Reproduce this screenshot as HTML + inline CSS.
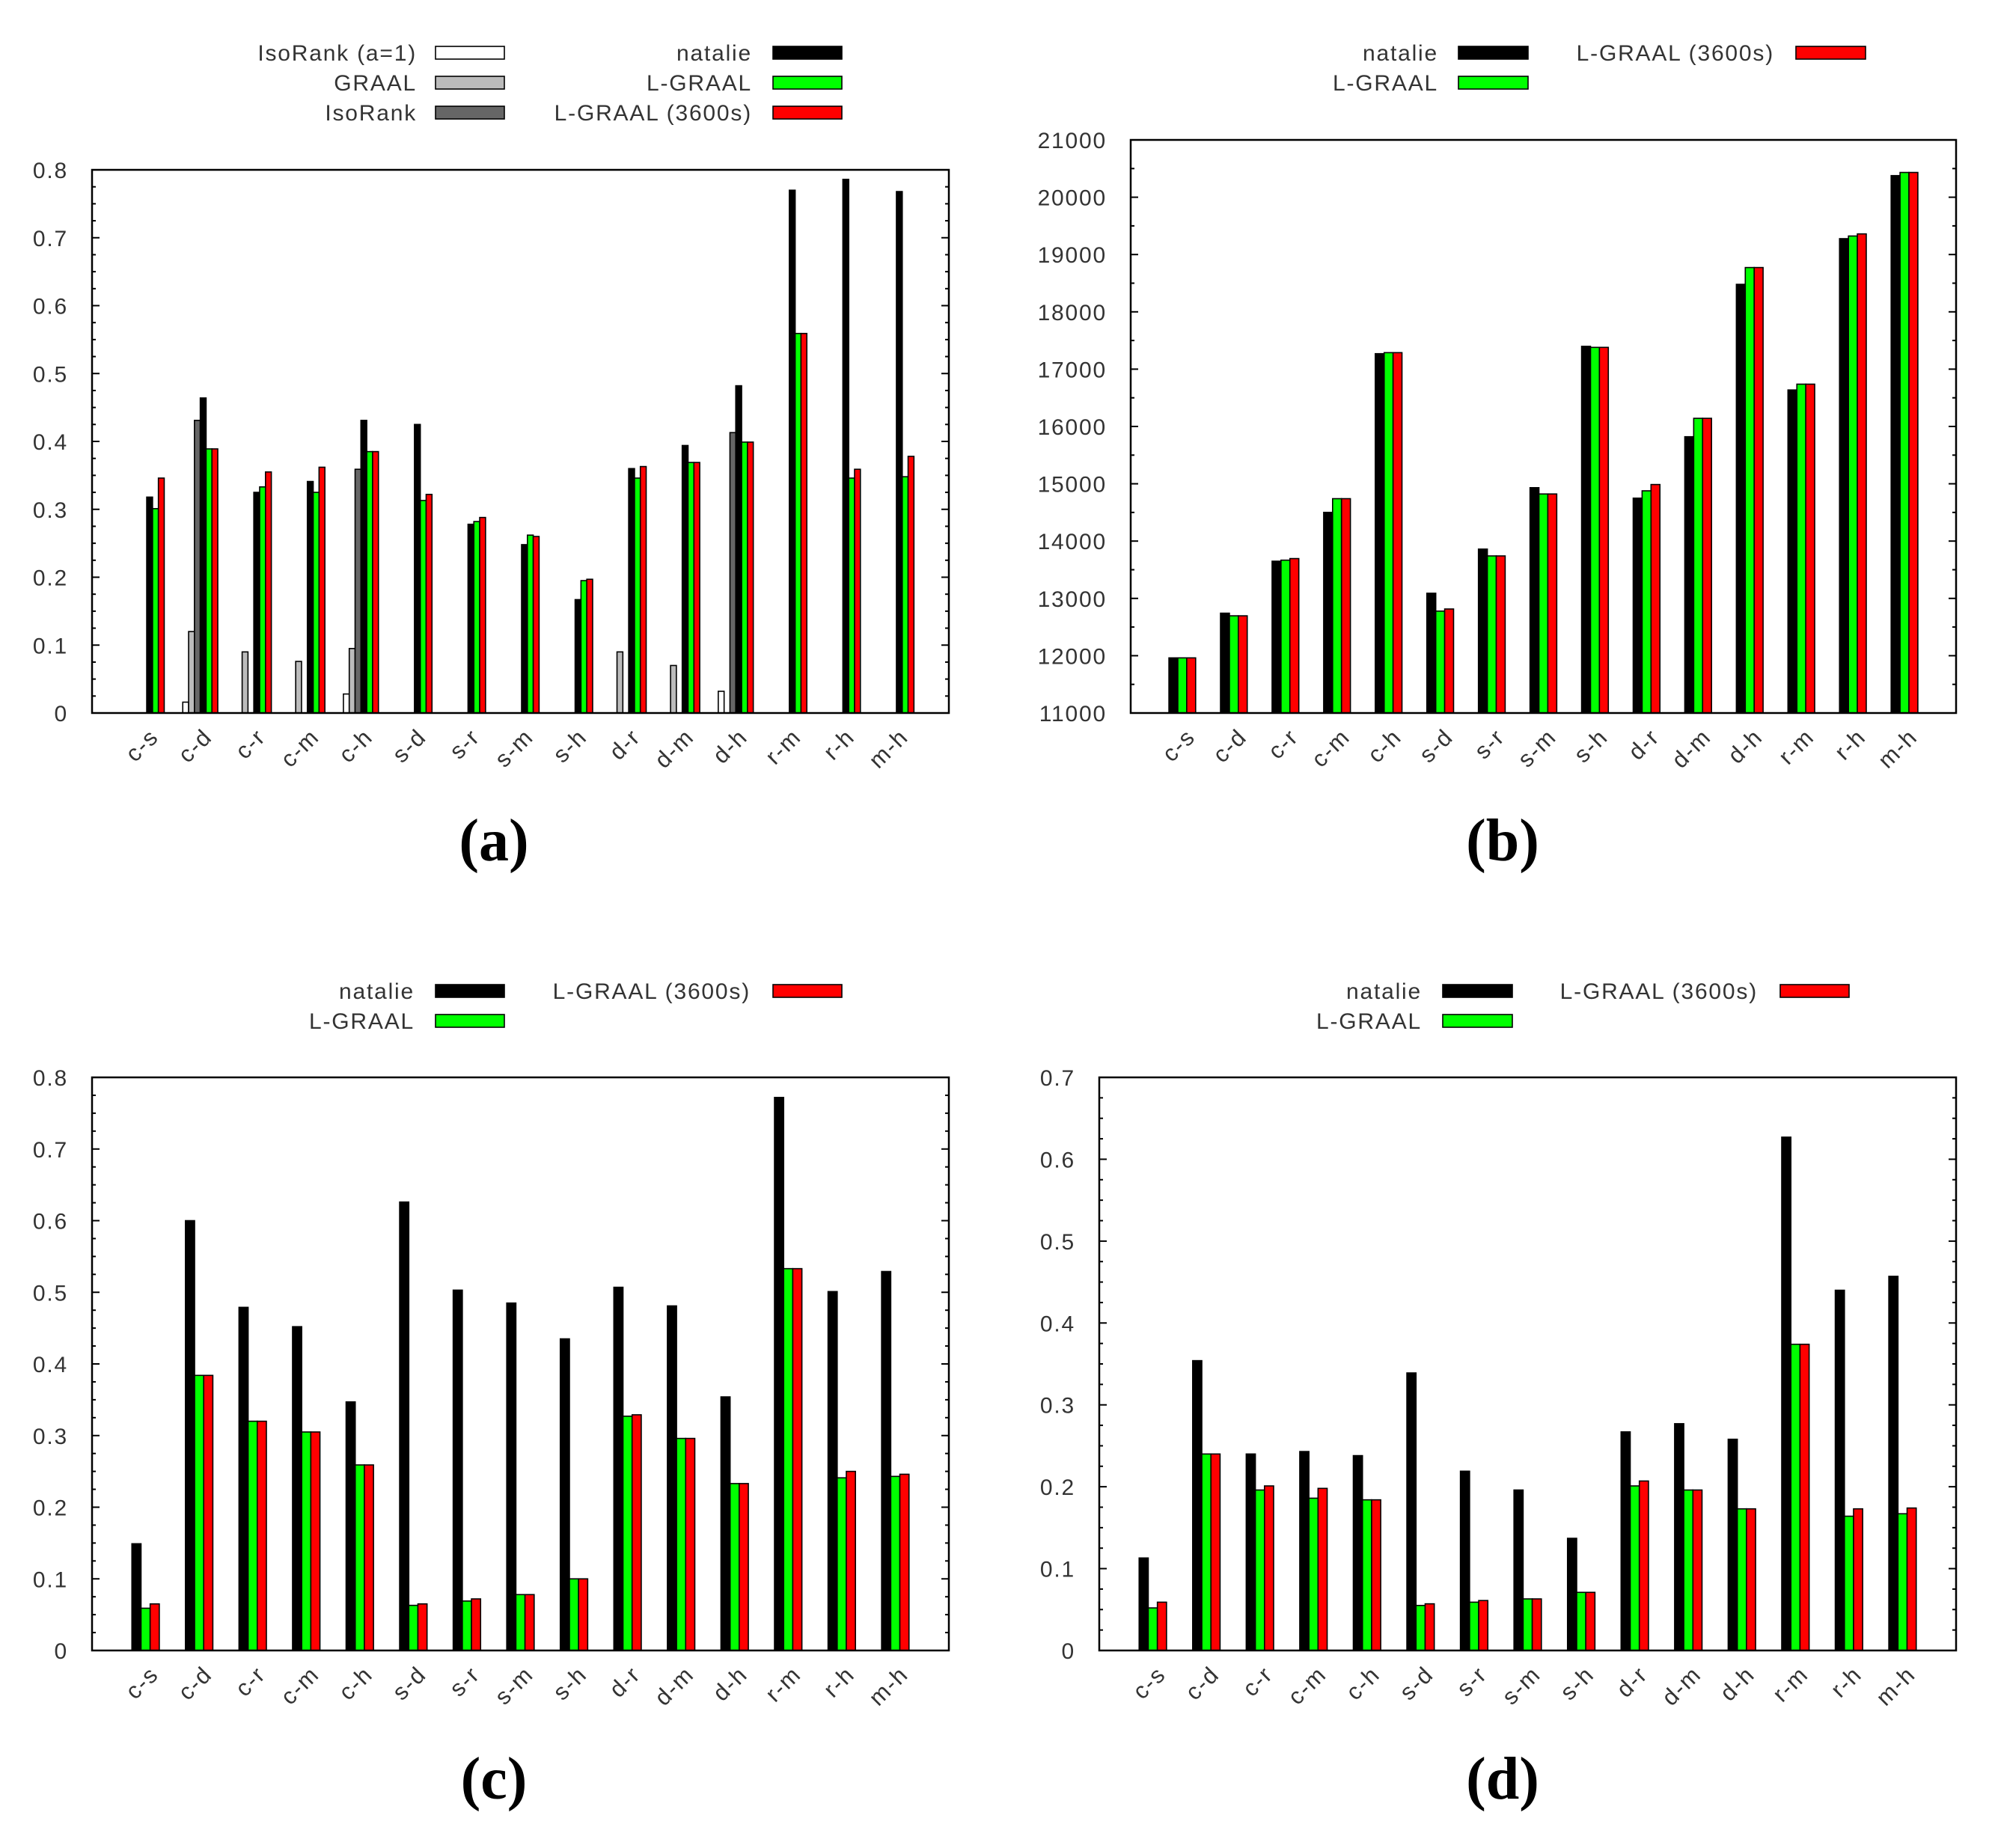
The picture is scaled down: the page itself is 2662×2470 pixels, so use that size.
<!DOCTYPE html>
<html><head><meta charset="utf-8">
<style>
html,body{margin:0;padding:0;background:#fff;}
svg{display:block;}
text{font-family:"Liberation Sans",sans-serif;fill:#333;letter-spacing:1.8px;}
.pl{font-family:"Liberation Serif",serif;font-weight:bold;fill:#000;letter-spacing:0;}
</style></head>
<body>
<svg id="fig" width="2662" height="2470" viewBox="0 0 2662 2470" xmlns="http://www.w3.org/2000/svg"></svg>
<script>
const categories = ["c-s","c-d","c-r","c-m","c-h","s-d","s-r","s-m","s-h","d-r","d-m","d-h","r-m","r-h","m-h"];

// Panel (a)
const aIsoRank1 = [null,0.016,null,null,0.028,null,null,null,null,null,null,0.032,null,null,null];
const aGraal    = [null,0.120,0.090,0.076,0.095,null,null,null,null,0.090,0.070,null,null,null,null];
const aIsoRank  = [null,0.431,null,null,0.359,null,null,null,null,null,null,0.413,null,null,null];
const aNatalie  = [0.318,0.464,0.325,0.341,0.431,0.425,0.278,0.248,0.167,0.360,0.394,0.482,0.770,0.786,0.768];
const aLGraal   = [0.301,0.389,0.333,0.325,0.385,0.313,0.282,0.262,0.195,0.346,0.369,0.399,0.559,0.346,0.348];
const aLGraal36 = [0.346,0.389,0.355,0.362,0.385,0.322,0.288,0.260,0.197,0.363,0.369,0.399,0.559,0.359,0.378];
const aTicks = ["0","0.1","0.2","0.3","0.4","0.5","0.6","0.7","0.8"];

// Panel (b)
const bNatalie  = [11962,12742,13649,14501,17270,13090,13860,14932,17398,14749,15821,18480,16637,19277,20377];
const bLGraal   = [11962,12696,13667,14740,17288,12778,13741,14822,17380,14877,16142,18773,16738,19323,20432];
const bLGraal36 = [11962,12696,13695,14740,17288,12815,13741,14822,17380,14987,16142,18773,16738,19360,20432];
const bTicks = ["11000","12000","13000","14000","15000","16000","17000","18000","19000","20000","21000"];

// Panel (c)
const cNatalie  = [0.149,0.600,0.479,0.452,0.347,0.626,0.503,0.485,0.435,0.507,0.481,0.354,0.772,0.501,0.529];
const cLGraal   = [0.059,0.384,0.320,0.305,0.259,0.063,0.069,0.078,0.100,0.327,0.296,0.233,0.533,0.241,0.243];
const cLGraal36 = [0.065,0.384,0.320,0.305,0.259,0.065,0.072,0.078,0.100,0.329,0.296,0.233,0.533,0.250,0.246];
const cTicks = ["0","0.1","0.2","0.3","0.4","0.5","0.6","0.7","0.8"];

// Panel (d)
const dNatalie  = [0.113,0.354,0.240,0.243,0.238,0.339,0.219,0.196,0.137,0.267,0.277,0.258,0.627,0.440,0.457];
const dLGraal   = [0.052,0.240,0.196,0.186,0.184,0.055,0.059,0.063,0.071,0.201,0.196,0.173,0.374,0.164,0.167];
const dLGraal36 = [0.059,0.240,0.201,0.198,0.184,0.057,0.061,0.063,0.071,0.207,0.196,0.173,0.374,0.173,0.174];
const dTicks = ["0","0.1","0.2","0.3","0.4","0.5","0.6","0.7"];

const NS = "http://www.w3.org/2000/svg";
const svg = document.getElementById("fig");
function mk(tag, attrs, parent){
  const e = document.createElementNS(NS, tag);
  for (const k in attrs) e.setAttribute(k, attrs[k]);
  (parent||svg).appendChild(e);
  return e;
}

function panel(cfg){
  const g = mk("g", {});
  
  
  const L=cfg.left, R=cfg.right, T=cfg.top, B=cfg.bottom;
  const ymin=cfg.ymin, ymax=cfg.ymax;
  const y = v => B - (v - ymin)/(ymax - ymin)*(B - T);
  const step = (R - L)/(categories.length + 1);
  const xc = i => L + step*(i+1);

  const nT = cfg.ticks.length;
  for (let t=0; t<nT; t++){
    const v = ymin + (ymax-ymin)*t/(nT-1);
    const yy = y(v);
    const lab = mk("text", {x: L - 32, y: yy + 11, "text-anchor":"end", "font-size":30}, g);
    lab.textContent = cfg.ticks[t];
    
    
    mk("line", {x1:L, x2:L+10, y1:yy, y2:yy, stroke:"#000","stroke-width":2}, g);
    mk("line", {x1:R, x2:R-10, y1:yy, y2:yy, stroke:"#000","stroke-width":2}, g);
    if (t < nT-1){
      for (let m=1; m<cfg.minor; m++){
        const vm = v + (ymax-ymin)/(nT-1)*m/cfg.minor;
        const ym = y(vm);
        mk("line", {x1:L, x2:L+5, y1:ym, y2:ym, stroke:"#000","stroke-width":2}, g);
        mk("line", {x1:R, x2:R-5, y1:ym, y2:ym, stroke:"#000","stroke-width":2}, g);
      }
    }
  }

  const n = cfg.series.length;
  const w = cfg.barW;
  for (let s=0; s<n; s++){
    const ser = cfg.series[s];
    for (let i=0; i<categories.length; i++){
      const v = ser.data[i];
      if (v === null || v === undefined) continue;
      const x0 = xc(i) + (s - n/2)*w + cfg.shift;
      const yt = y(v);
      const r = mk("rect", {x:x0, y:yt, width:w, height:B-yt, fill:ser.color, stroke:"#000", "stroke-width":1.6}, g);
      
      
    }
  }

  const fr = mk("rect", {x:L, y:T, width:R-L, height:B-T, fill:"none", stroke:"#000", "stroke-width":2.5}, g);
  
  

  for (let i=0; i<categories.length; i++){
    const ax = xc(i) + 19, ay = B + 34;
    const t = mk("text", {x:ax, y:ay, "text-anchor":"end", "font-size":31, transform:`rotate(-45 ${ax} ${ay})`}, g);
    t.textContent = categories[i];
    
    
  }

  for (const le of cfg.legend){
    const s = cfg.series.find(q => q.key === le.key);
    const lg = mk("g", {}, g);
    
    
    const tx = mk("text", {x:le.tx, y:le.y + 11, "text-anchor":"end", "font-size":30}, lg);
    tx.textContent = s.label;
    mk("rect", {x:le.sx, y:le.y - 8, width:le.sw, height:17, fill:s.color, stroke:"#000", "stroke-width":1.6}, lg);
  }

  const pl = mk("text", {x:cfg.plx, y:cfg.ply, "text-anchor":"middle", "font-size":80, class:"pl"}, g);
  pl.textContent = cfg.plabel;
  
  
}

const colBlack="#000000", colGreen="#00ff00", colRed="#ff0000";

panel({name:"panel-a", left:123, right:1268, top:227, bottom:953, ymin:0, ymax:0.8, ticks:aTicks, minor:4,
  barW:7.8, shift:1.5,
  series:[
    {key:"isorank-a1", label:"IsoRank (a=1)", color:"#ffffff", data:aIsoRank1},
    {key:"graal", label:"GRAAL", color:"#bbbbbb", data:aGraal},
    {key:"isorank", label:"IsoRank", color:"#666666", data:aIsoRank},
    {key:"natalie", label:"natalie", color:colBlack, data:aNatalie},
    {key:"lgraal", label:"L-GRAAL", color:colGreen, data:aLGraal},
    {key:"lgraal3600", label:"L-GRAAL (3600s)", color:colRed, data:aLGraal36}],
  legend:[
    {key:"isorank-a1", tx:557, sx:582, sw:92, y:70},
    {key:"graal", tx:557, sx:582, sw:92, y:110},
    {key:"isorank", tx:557, sx:582, sw:92, y:150},
    {key:"natalie", tx:1005, sx:1033, sw:92, y:70},
    {key:"lgraal", tx:1005, sx:1033, sw:92, y:110},
    {key:"lgraal3600", tx:1005, sx:1033, sw:92, y:150}],
  plabel:"(a)", plx:660, ply:1150});

panel({name:"panel-b", left:1511, right:2614, top:187, bottom:953, ymin:11000, ymax:21000, ticks:bTicks, minor:2,
  barW:11.9, shift:0,
  series:[
    {key:"natalie", label:"natalie", color:colBlack, data:bNatalie},
    {key:"lgraal", label:"L-GRAAL", color:colGreen, data:bLGraal},
    {key:"lgraal3600", label:"L-GRAAL (3600s)", color:colRed, data:bLGraal36}],
  legend:[
    {key:"natalie", tx:1922, sx:1949, sw:93, y:70},
    {key:"lgraal", tx:1922, sx:1949, sw:93, y:110},
    {key:"lgraal3600", tx:2371, sx:2400, sw:93, y:70}],
  plabel:"(b)", plx:2008, ply:1150});

panel({name:"panel-c", left:123, right:1268, top:1440, bottom:2206, ymin:0, ymax:0.8, ticks:cTicks, minor:4,
  barW:12.2, shift:0,
  series:[
    {key:"natalie", label:"natalie", color:colBlack, data:cNatalie},
    {key:"lgraal", label:"L-GRAAL", color:colGreen, data:cLGraal},
    {key:"lgraal3600", label:"L-GRAAL (3600s)", color:colRed, data:cLGraal36}],
  legend:[
    {key:"natalie", tx:554, sx:582, sw:92, y:1324},
    {key:"lgraal", tx:554, sx:582, sw:92, y:1364},
    {key:"lgraal3600", tx:1003, sx:1033, sw:92, y:1324}],
  plabel:"(c)", plx:660, ply:2404});

panel({name:"panel-d", left:1469, right:2614, top:1440, bottom:2206, ymin:0, ymax:0.7, ticks:dTicks, minor:4,
  barW:12.2, shift:0,
  series:[
    {key:"natalie", label:"natalie", color:colBlack, data:dNatalie},
    {key:"lgraal", label:"L-GRAAL", color:colGreen, data:dLGraal},
    {key:"lgraal3600", label:"L-GRAAL (3600s)", color:colRed, data:dLGraal36}],
  legend:[
    {key:"natalie", tx:1900, sx:1928, sw:93, y:1324},
    {key:"lgraal", tx:1900, sx:1928, sw:93, y:1364},
    {key:"lgraal3600", tx:2349, sx:2379, sw:92, y:1324}],
  plabel:"(d)", plx:2008, ply:2404});
</script>
</body></html>
